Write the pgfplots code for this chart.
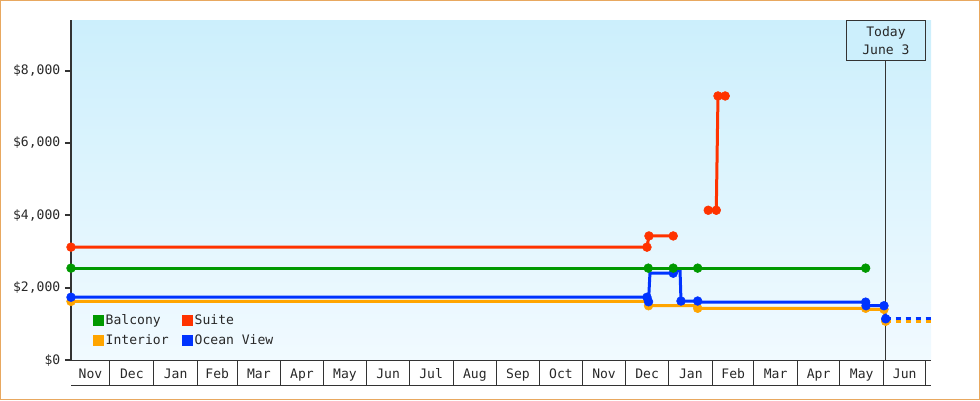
\documentclass[border=0pt]{standalone}
\usepackage{pgfplots}
\pgfplotsset{compat=1.18}
\usepackage{pgfplotstable}
\usepackage{fontspec}
\setmainfont{DejaVu Sans Mono}
\newlength\px
\setlength\px{0.75pt}

\definecolor{suite}{RGB}{255,51,0}
\definecolor{balcony}{RGB}{0,153,0}
\definecolor{interior}{RGB}{255,165,0}
\definecolor{ocean}{RGB}{0,51,255}
\definecolor{axisgray}{RGB}{51,51,51}
\definecolor{labelgray}{RGB}{40,40,40}
\definecolor{bgtop}{RGB}{204,239,252}
\definecolor{bgbot}{RGB}{241,250,255}
\definecolor{frame}{RGB}{232,168,96}

% x = days counted from 1 Nov (second Feb has 29 days), mark = nan where no marker
\pgfplotstableread{
day   price mark
2.4   2540  2540
411.3 2540  2540
429.0 2540  2540
446.3 2540  2540
565.3 2540  2540
}\balcony

\pgfplotstableread{
day   price mark
2.4   3120  3120
410.4 3120  3120
411.8 3430  3430
429.0 3430  3430
437.0 nan   nan
453.8 4140  4140
459.5 4140  4140
460.7 7300  7300
465.8 7300  7300
}\suite

\pgfplotstableread{
day   price mark
2.4   1620  1620
410.4 1620  nan
411.5 1500  1500
446.0 1500  nan
446.3 1430  1430
565.3 1430  1430
565.6 1400  nan
578.3 1400  1400
579.5 1070  1070
}\interior

\pgfplotstableread{
day   price mark
2.4   1735  1735
410.4 1735  1735
411.5 1610  1610
412.5 2400  nan
429.0 2400  2400
433.8 2500  nan
434.5 1630  1630
446.3 1630  1630
446.6 1600  nan
565.3 1600  1600
565.6 1500  1500
578.3 1500  1500
579.5 1140  1140
}\ocean

% forecast after today
\pgfplotstableread{
day   interior ocean
579.5 1070     1140
611.6 1070     1140
}\future

\pgfplotsset{
  price line/.style={line width=3\px, mark=none, forget plot, unbounded coords=jump},
  price marks/.style={only marks, mark=*, mark size=3.3pt, mark options={draw=none}, forget plot},
  future line/.style={line width=3\px, mark=none, forget plot, dash pattern=on 5\px off 5\px},
}

\begin{document}
\begin{tikzpicture}[font=\fontsize{9.8}{13.5}\selectfont]
\draw[frame, line width=1\px] (0.5\px,0.5\px) rectangle (979.5\px,399.5\px);
\begin{axis}[
  at={(71\px,40\px)}, anchor=south west,
  scale only axis, width=860\px, height=340\px,
  xmin=2.4, xmax=611.6, ymin=0, ymax=9400,
  clip=false,
  axis lines*=left,
  x axis line style={axisgray, line width=1\px},
  y axis line style={axisgray, line width=2\px},
  axis background/.style={top color=bgtop, bottom color=bgbot},
  tick align=outside, major tick length=6\px,
  ytick={0,2000,4000,6000,8000},
  ytick style={axisgray, line width=2\px},
  /pgf/number format/assume math mode=true,
  /pgf/number format/fixed,
  /pgf/number format/1000 sep={,},
  yticklabel={\$\pgfmathprintnumber{\tick}},
  xtick={16.2,45.5,76.5,106,135.5,166,196.5,227,257.5,288.5,319,349.5,380,410.5,441.5,471.5,501.5,532,562.5,593},
  xticklabels={Nov,Dec,Jan,Feb,Mar,Apr,May,Jun,Jul,Aug,Sep,Oct,Nov,Dec,Jan,Feb,Mar,Apr,May,Jun},
  xtick style={draw=none},
  tick label style={text=labelgray},
  xticklabel style={anchor=base, yshift=-12\px},
  legend columns=2,
  legend cell align=left,
  legend image code/.code={\fill[#1, draw=none] (0pt,-5.5\px) rectangle (11\px,5.5\px);},
  legend style={draw=none, fill=none, at={(0.0209,0.086)}, anchor=west,
    nodes={inner sep=1.5\px, text=labelgray}, row sep=5\px,
    /tikz/every even column/.append style={column sep=12\px}},
]
\addlegendimage{fill=balcony}\addlegendentry{Balcony}
\addlegendimage{fill=suite}\addlegendentry{Suite}
\addlegendimage{fill=interior}\addlegendentry{Interior}
\addlegendimage{fill=ocean}\addlegendentry{Ocean View}

% month cells under the axis
\pgfplotsinvokeforeach{30,61,92,120,151,181,212,242,273,304,334,365,395,426,457,486,517,547,578,608}{
  \draw[axisgray, line width=1\px] (axis cs:#1,0) -- ([yshift=-25\px]axis cs:#1,0);
}
\draw[axisgray, line width=1\px] ([yshift=-25\px]rel axis cs:0,0) -- ([yshift=-25\px]rel axis cs:1,0);

% today marker
\node[draw=axisgray, fill=bgtop, line width=1\px, minimum width=79\px, minimum height=40\px,
  anchor=north, align=center, inner sep=0pt, text=labelgray] (today) at (axis cs:579.7,9400) {Today\\June 3};
\draw[axisgray, line width=1\px] (today.south) -- (axis cs:579.7,0);

\addplot[price line, interior] table[x=day, y=price] {\interior};
\addplot[price marks, interior] table[x=day, y=mark] {\interior};
\addplot[future line, interior] table[x=day, y=interior] {\future};

\addplot[price line, ocean] table[x=day, y=price] {\ocean};
\addplot[price marks, ocean] table[x=day, y=mark] {\ocean};
\addplot[future line, ocean] table[x=day, y=ocean] {\future};

\addplot[price line, balcony] table[x=day, y=price] {\balcony};
\addplot[price marks, balcony] table[x=day, y=mark] {\balcony};

\addplot[price line, suite] table[x=day, y=price] {\suite};
\addplot[price marks, suite] table[x=day, y=mark] {\suite};
\end{axis}
\end{tikzpicture}
\end{document}
